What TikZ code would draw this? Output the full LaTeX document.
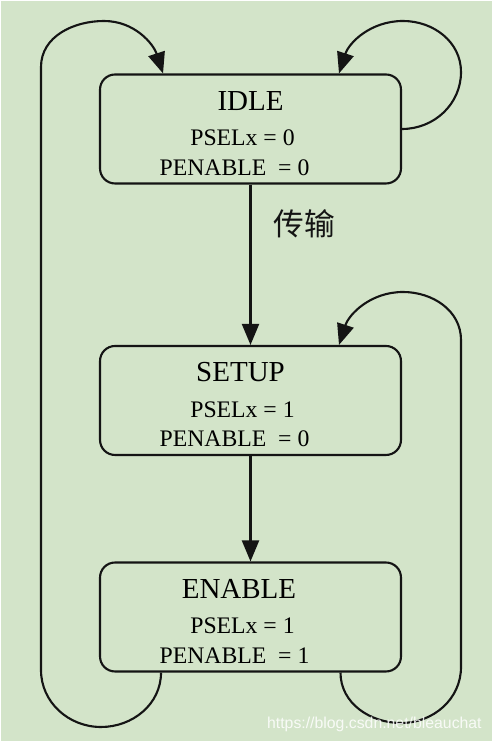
\documentclass[tikz,border=0pt]{standalone}
\usepackage{fontspec}
\setmainfont{Liberation Serif}
\newfontfamily\cjkfont{Noto Sans CJK SC}
\newfontfamily\wmfont{Liberation Sans}
\usetikzlibrary{arrows.meta,positioning}
\definecolor{bggreen}{RGB}{211,228,201}
\definecolor{linec}{RGB}{20,20,20}

\begin{document}
\begin{tikzpicture}[x=0.02cm, y=0.02cm,
    state/.style={draw=linec, line width=1.2pt, rounded corners=0.3cm, minimum width=6.02cm, minimum height=2.18cm, inner sep=0pt, align=center, font=\fontsize{13.5}{17}\selectfont},
    arr/.style={-{Triangle[length=0.42cm,width=0.34cm]}, draw=linec, line width=1.2pt},
    lbl/.style={font=\cjkfont\fontsize{17.5}{20}\selectfont, inner sep=0pt, text=linec},
    wm/.style={font=\wmfont\fontsize{9}{10}\selectfont, text=white, text opacity=0.85, inner sep=0pt}
]
\useasboundingbox (0,0) rectangle (492,743);
\fill[bggreen] (1,2) rectangle (492,742);

% states
\node[state] (IDLE) at (250.5,614) {\rule{0pt}{0.56cm}{\fontsize{16.5}{20}\selectfont IDLE}\\[3pt] PSELx = 0\rule{0.32cm}{0pt}\\ PENABLE\ \ = 0\rule{0.64cm}{0pt}};
\node[state] (SETUP) at (250.5,342.5) {\rule{0pt}{0.56cm}{\fontsize{16.5}{20}\selectfont SETUP}\rule{0.4cm}{0pt}\\[3pt] PSELx = 1\rule{0.32cm}{0pt}\\ PENABLE\ \ = 0\rule{0.64cm}{0pt}};
\node[state] (ENABLE) at (250.5,126) {\rule{0pt}{0.56cm}{\fontsize{16.5}{20}\selectfont ENABLE}\rule{0.46cm}{0pt}\\[3pt] PSELx = 1\rule{0.32cm}{0pt}\\ PENABLE\ \ = 1\rule{0.64cm}{0pt}};

% transitions
\draw[arr] (IDLE) -- node[lbl, pos=0.245, right=0.44cm] {传输} (SETUP);
\draw[arr] (SETUP) -- (ENABLE);
\draw[arr] (IDLE.east) to[out=0,in=-90] (461,671) to[out=90,in=0] (403,722) to[out=180,in=72] ([xshift=1.77cm]IDLE.north);
\draw[arr] ([xshift=-1.79cm]ENABLE.south) to[out=-90,in=0] (101,16) to[out=180,in=-90] (41,73) -- (41,676) to[out=90,in=180] (104,722) to[out=0,in=108] ([xshift=-1.75cm]IDLE.north);
\draw[arr] ([xshift=1.8cm]ENABLE.south) to[out=-90,in=180] (401,20) to[out=0,in=-90] (461,76) -- (461,403) to[out=90,in=0] (403,451) to[out=180,in=72] ([xshift=1.77cm]SETUP.north);

\node[wm, anchor=base east] (url) at (482,14) {https://blog.csdn.net/bleauchat};
\end{tikzpicture}
\end{document}
